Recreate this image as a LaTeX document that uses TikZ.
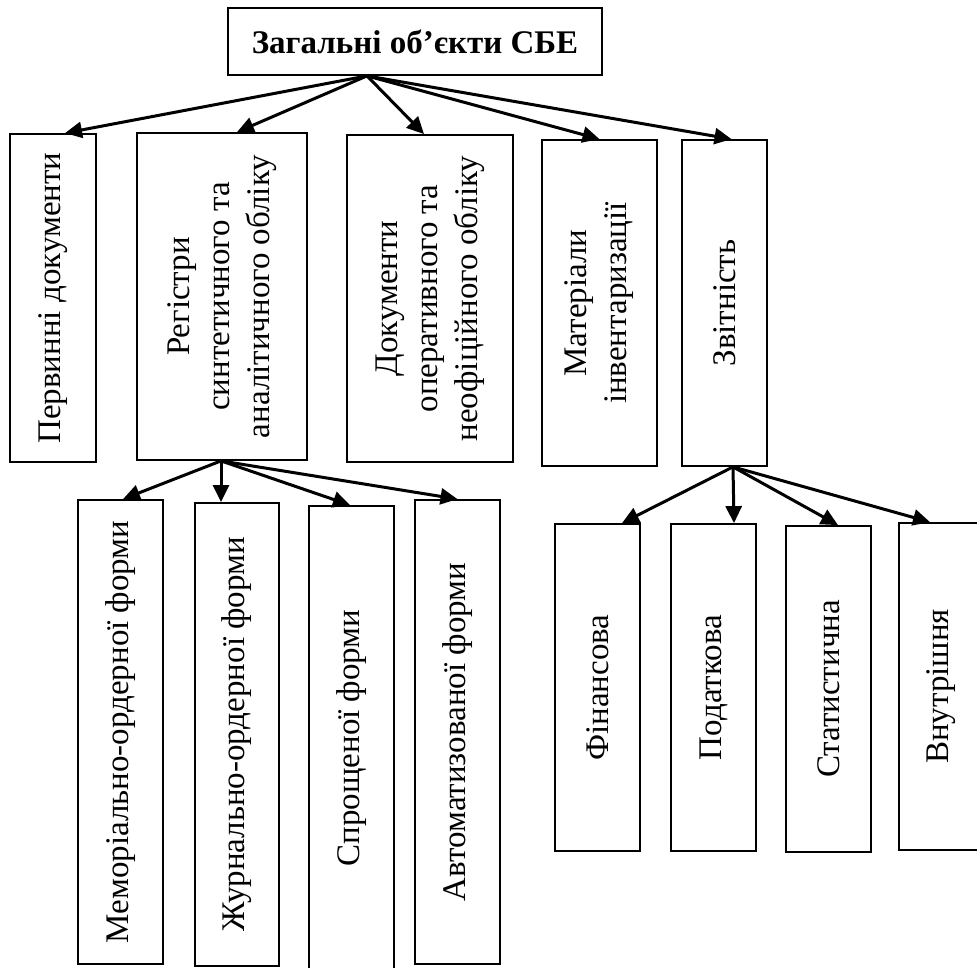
\documentclass[tikz,border=0pt]{standalone}
\usepackage{fontspec}
\setmainfont{Liberation Serif}
\usetikzlibrary{arrows.meta}

\begin{document}
\begin{tikzpicture}[x=1pt,y=-1pt,font=\fontsize{33}{40}\selectfont,
      v/.style 2 args={draw,line width=1.8pt,rotate=90,align=center,inner sep=0pt,
        minimum width=#1,minimum height=#2},
      a/.style={-{Triangle[length=17pt,width=16pt]},line width=3pt}]
  \useasboundingbox (0,0) rectangle (977,968);
  \clip (0,0) rectangle (977,968);
  \node[draw,line width=1.8pt,minimum width=374pt,minimum height=67pt,
    font=\bfseries\fontsize{33}{40}\selectfont] (sbe) at (415,41.5) {Загальні об’єкти СБЕ};
  % first level
  \node[v={328pt}{86pt}] (perv) at (53,298) {Первинні документи};
  \node[v={327pt}{170pt}] (reg) at (222,296.5) {Регістри\\синтетичного та\\аналітичного обліку};
  \node[v={327pt}{166pt}] (doc) at (430,298.5) {Документи\\оперативного та\\неофіційного обліку};
  \node[v={326pt}{115pt}] (mat) at (599.5,303) {Матеріали\\інвентаризації};
  \node[v={326pt}{85pt}] (zvit) at (724.5,303) {Звітність};
  % registers
  \node[v={464pt}{85pt}] (mem) at (120.5,732) {Меморіально-ордерної форми};
  \node[v={463pt}{84pt}] (zhur) at (237,734.5) {Журнально-ордерної форми};
  \node[v={464pt}{85pt}] (spr) at (351.5,738) {Спрощеної форми};
  \node[v={464pt}{85pt}] (avt) at (457.5,732) {Автоматизованої форми};
  % reporting
  \node[v={327pt}{85pt}] (fin) at (597.5,687.5) {Фінансова};
  \node[v={327pt}{85pt}] (pod) at (713.5,687.5) {Податкова};
  \node[v={326pt}{85pt}] (stat) at (828.5,689) {Статистична};
  \node[v={327pt}{85pt}] (vnut) at (941.5,686.5) {Внутрішня};
  \draw[a] ([xshift=-48pt]sbe.south) -- ([xshift=12pt]perv.east);
  \draw[a] ([xshift=-48pt]sbe.south) -- ([xshift=15pt]reg.east);
  \draw[a] ([xshift=-48pt]sbe.south) -- ([xshift=-6pt]doc.east);
  \draw[a] ([xshift=-48pt]sbe.south) -- (mat.east);
  \draw[a] ([xshift=-48pt]sbe.south) -- ([xshift=7pt]zvit.east);
  \draw[a] ([xshift=-1pt]reg.west) -- ([xshift=2.5pt]mem.east);
  \draw[a] ([xshift=-1pt]reg.west) -- ([xshift=-16pt]zhur.east);
  \draw[a] ([xshift=-1pt]reg.west) -- ([xshift=-1.5pt]spr.east);
  \draw[a] ([xshift=-1pt]reg.west) -- (avt.east);
  \draw[a] ([xshift=8.5pt]zvit.west) -- ([xshift=24.5pt]fin.east);
  \draw[a] ([xshift=8.5pt]zvit.west) -- ([xshift=20.5pt]pod.east);
  \draw[a] ([xshift=8.5pt]zvit.west) -- ([xshift=9.5pt]stat.east);
  \draw[a] ([xshift=8.5pt]zvit.west) -- ([xshift=-11.5pt]vnut.east);
\end{tikzpicture}
\end{document}
